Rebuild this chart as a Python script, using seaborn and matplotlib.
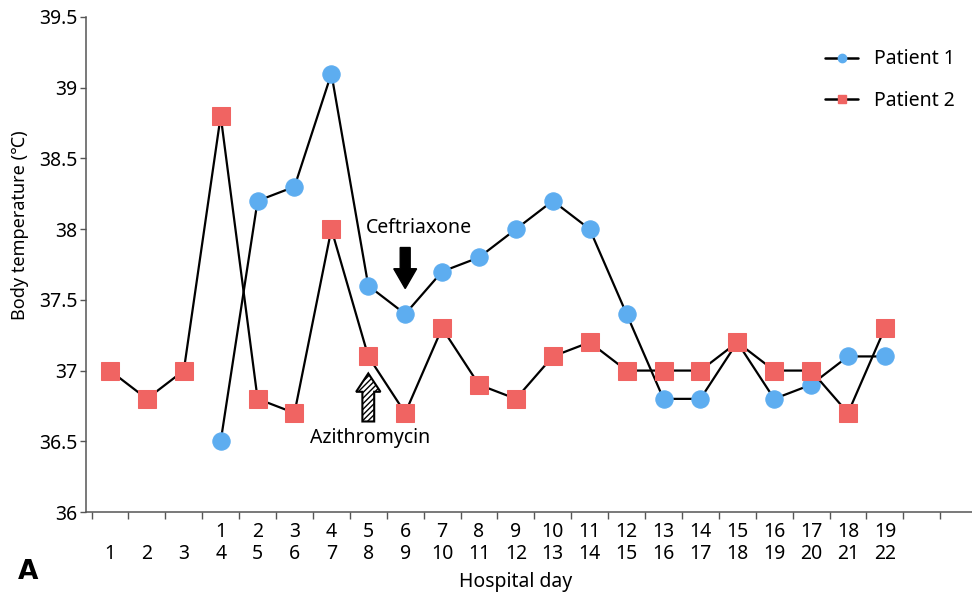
"""Body temperature by hospital day for two patients."""
import matplotlib
matplotlib.use("Agg")
import matplotlib.pyplot as plt
import seaborn as sns
import pandas as pd
from matplotlib.lines import Line2D
from matplotlib.patches import FancyArrow
from matplotlib.ticker import FuncFormatter

# shared x positions follow patient 2 hospital days
p2_days = [1, 2, 3, 4, 5, 6, 7, 8, 9, 10, 11, 12, 13, 14, 15, 16, 17, 18, 19, 20, 21, 22]
p2_temp = [37.0, 36.8, 37.0, 38.8, 36.8, 36.7, 38.0, 37.1, 36.7, 37.3, 36.9,
           36.8, 37.1, 37.2, 37.0, 37.0, 37.0, 37.2, 37.0, 37.0, 36.7, 37.3]

# patient 1 day 1 lines up with patient 2 day 4
p1_days = [1, 2, 3, 4, 5, 6, 7, 8, 9, 10, 11, 12, 13, 14, 15, 16, 17, 18, 19]
p1_offset = 3
p1_temp = [36.5, 38.2, 38.3, 39.1, 37.6, 37.4, 37.7, 37.8, 38.0, 38.2, 38.0,
           37.4, 36.8, 36.8, 37.2, 36.8, 36.9, 37.1, 37.1]

BLUE = "#5dadf0"
RED = "#f06462"
FS = 14

sns.set_style("white")
plt.rcParams["font.family"] = ["Noto Sans", "DejaVu Sans"]
plt.rcParams["text.color"] = "black"
plt.rcParams["xtick.color"] = "black"
plt.rcParams["ytick.color"] = "black"

df1 = pd.DataFrame({"pos": [d + p1_offset for d in p1_days], "temp": p1_temp})
df2 = pd.DataFrame({"pos": p2_days, "temp": p2_temp})

fig = plt.figure(figsize=(9.72, 5.98), dpi=100)
ax = fig.add_axes([86 / 972, 1 - 512 / 598, 1 - 86 / 972, (512 - 17) / 598])

sns.lineplot(data=df1, x="pos", y="temp", ax=ax, color="black", linewidth=1.6,
             marker="o", markersize=12.5, markerfacecolor=BLUE,
             markeredgecolor=BLUE, zorder=3)
sns.lineplot(data=df2, x="pos", y="temp", ax=ax, color="black", linewidth=1.6,
             marker="s", markersize=12.5, markerfacecolor=RED,
             markeredgecolor=RED, zorder=3)

ax.set_ylim(36, 39.5)
ax.set_xlim(0.35, 24.36)
ax.set_yticks([36, 36.5, 37, 37.5, 38, 38.5, 39, 39.5])
ax.yaxis.set_major_formatter(FuncFormatter(lambda v, _: f"{v:g}"))

# boundary ticks between days, labels on minor ticks at each day
ax.set_xticks([p - 0.5 for p in p2_days] + [p2_days[-1] + 0.5, p2_days[-1] + 1.5])
ax.set_xticklabels([])
top_row = {d + p1_offset: str(d) for d in p1_days}
ax.set_xticks(p2_days, minor=True)
ax.set_xticklabels([f"{top_row.get(p, '')}\n{p}" for p in p2_days], minor=True)
ax.tick_params(axis="x", which="major", bottom=True, direction="out", length=5,
               width=1, color="#555555")
ax.tick_params(axis="x", which="minor", bottom=True, length=0, pad=7, labelsize=FS)
ax.tick_params(axis="y", left=True, direction="out", length=4, width=1,
               color="#555555", labelsize=FS, pad=2)
for lab in ax.get_xticklabels(minor=True):
    lab.set_linespacing(1.15)

ax.set_xlabel("")
ax.set_ylabel("")
sns.despine(ax=ax)
for s in ("left", "bottom"):
    ax.spines[s].set_color("#555555")
    ax.spines[s].set_linewidth(1.1)

# antibiotic markers
ax.add_patch(FancyArrow(9, 37.87, 0, -0.29, width=0.27, head_width=0.62,
                        head_length=0.14, length_includes_head=True,
                        color="black", zorder=4))
ax.text(9.37, 38.01, "Ceftriaxone", ha="center", va="center", fontsize=FS)
ax.add_patch(FancyArrow(8, 36.64, 0, 0.34, width=0.32, head_width=0.66,
                        head_length=0.13, length_includes_head=True,
                        facecolor="white", edgecolor="black", hatch="//////",
                        linewidth=1.5, zorder=4))
ax.text(8.05, 36.52, "Azithromycin", ha="center", va="center", fontsize=FS)

handles = [
    Line2D([], [], color="black", linewidth=1.8, marker="o", markersize=6,
           markerfacecolor=BLUE, markeredgecolor=BLUE),
    Line2D([], [], color="black", linewidth=1.8, marker="s", markersize=6,
           markerfacecolor=RED, markeredgecolor=RED),
]
ax.legend(handles, ["Patient 1", "Patient 2"], loc="upper right",
          bbox_to_anchor=(972 / 972, 1 - 32 / 598), bbox_transform=fig.transFigure,
          frameon=False, fontsize=FS, handlelength=1.7, handletextpad=0.8,
          labelspacing=1.1)

fig.text(516 / 972, 1 - 582 / 598, "Hospital day", ha="center", va="center", fontsize=FS)
fig.text(20 / 972, 1 - 225 / 598, "Body temperature (℃)", ha="center", va="center",
         rotation=90, fontsize=13)
fig.text(28 / 972, 1 - 572 / 598, "A", ha="center", va="center", fontsize=19,
         fontweight="bold", family="DejaVu Sans")

fig.savefig("out.png", dpi=100)
